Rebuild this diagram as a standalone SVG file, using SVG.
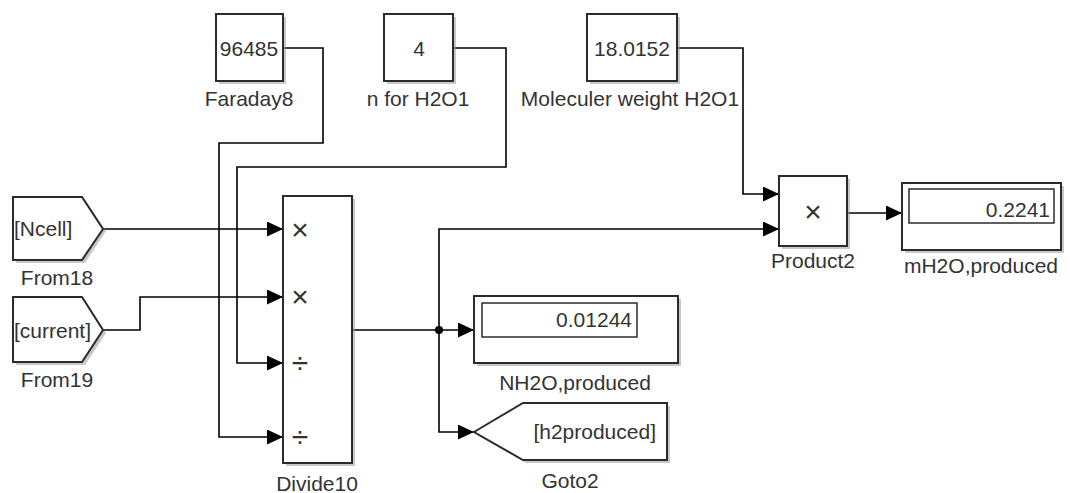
<svg xmlns="http://www.w3.org/2000/svg" width="1070" height="493" viewBox="0 0 1070 493">
<defs>
<marker id="arr" markerUnits="userSpaceOnUse" markerWidth="16" markerHeight="15" viewBox="0 0 16 15" refX="16" refY="7.5" orient="auto">
<path d="M0,0 L16,7.5 L0,15 z" fill="#000"/>
</marker>
</defs>
<style>
.blk{fill:#fff;stroke:#2b2b2b;stroke-width:2}
.sh{fill:#9a9a9a;opacity:0.55}
.inner{fill:#fff;stroke:#2b2b2b;stroke-width:1.5}
.t{font-family:"Liberation Sans",Arial,sans-serif;font-size:21px;fill:#333}
.op{font-family:"Liberation Sans",Arial,sans-serif;font-size:30px;fill:#333;text-anchor:middle}
.c{text-anchor:middle}
.r{text-anchor:end}
.wa{fill:none;stroke:#000;stroke-width:1.6;marker-end:url(#arr)}
</style>
<rect width="1070" height="493" fill="#fff"/>

<g id="connectors">
<path class="wa" d="M283,48 H323 V143 H219 V437 H283"/>
<path class="wa" d="M453,48 H506 V167 H237 V363 H283"/>
<path class="wa" d="M677,48 H743 V194 H779"/>
<path class="wa" d="M103,229 H283"/>
<path class="wa" d="M103,330 H140 V297 H283"/>
<path class="wa" d="M352,330 H474"/>
<path class="wa" d="M439,330 V229 H779"/>
<path class="wa" d="M439,330 V432 H474"/>
<path class="wa" d="M847,213 H902"/>
<circle cx="439" cy="330" r="4" fill="#000"/>
</g>

<g id="Faraday8">
<rect class="sh" x="219" y="17" width="67" height="67"/>
<rect class="blk" x="216" y="14" width="67" height="67"/>
<text class="t c" x="249" y="56">96485</text>
<text class="t c" x="249" y="106">Faraday8</text>
</g>

<g id="nForH2O1">
<rect class="sh" x="387" y="17" width="69" height="67"/>
<rect class="blk" x="384" y="14" width="69" height="67"/>
<text class="t c" x="419" y="56">4</text>
<text class="t c" x="418" y="106">n for H2O1</text>
</g>

<g id="MolecularWeight">
<rect class="sh" x="590" y="17" width="90" height="67"/>
<rect class="blk" x="587" y="14" width="90" height="67"/>
<text class="t c" x="632" y="56">18.0152</text>
<text class="t c" x="630" y="106">Moleculer weight H2O1</text>
</g>

<g id="From18">
<path class="sh" d="M16,200 H85 L106,231 L85,263 H16 Z"/>
<path class="blk" d="M13,197 H82 L103,229 L82,260 H13 Z"/>
<text class="t" x="14" y="236">[Ncell]</text>
<text class="t c" x="57" y="285">From18</text>
</g>

<g id="From19">
<path class="sh" d="M16,300 H85 L106,333 L85,365 H16 Z"/>
<path class="blk" d="M13,297 H82 L103,330 L82,362 H13 Z"/>
<text class="t" x="14" y="338">[current]</text>
<text class="t c" x="57" y="387">From19</text>
</g>

<g id="Divide10">
<rect class="sh" x="286" y="199" width="69" height="267"/>
<rect class="blk" x="283" y="196" width="69" height="267"/>
<text class="op" x="300" y="240">×</text>
<text class="op" x="300" y="307">×</text>
<text class="op" x="300" y="373">÷</text>
<text class="op" x="300" y="447">÷</text>
<text class="t c" x="317" y="491">Divide10</text>
</g>

<g id="NH2Oproduced">
<rect class="sh" x="477" y="299" width="204" height="67"/>
<rect class="blk" x="474" y="296" width="204" height="67"/>
<rect class="inner" x="482" y="303" width="155" height="34"/>
<text class="t r" x="632" y="327">0.01244</text>
<text class="t c" x="575" y="390">NH2O,produced</text>
</g>

<g id="Goto2">
<path class="sh" d="M477,435 L526,406 H670 V463 H526 Z"/>
<path class="blk" d="M474,432 L523,403 H667 V460 H523 Z"/>
<text class="t r" x="656" y="439">[h2produced]</text>
<text class="t c" x="570" y="488">Goto2</text>
</g>

<g id="Product2">
<rect class="sh" x="782" y="179" width="68" height="70"/>
<rect class="blk" x="779" y="176" width="68" height="70"/>
<text class="op" x="813" y="222">×</text>
<text class="t c" x="813" y="268">Product2</text>
</g>

<g id="mH2Oproduced">
<rect class="sh" x="905" y="186" width="159" height="67"/>
<rect class="blk" x="902" y="183" width="159" height="67"/>
<rect class="inner" x="909" y="189" width="145" height="34"/>
<text class="t r" x="1050" y="217">0.2241</text>
<text class="t c" x="981" y="273">mH2O,produced</text>
</g>
</svg>
